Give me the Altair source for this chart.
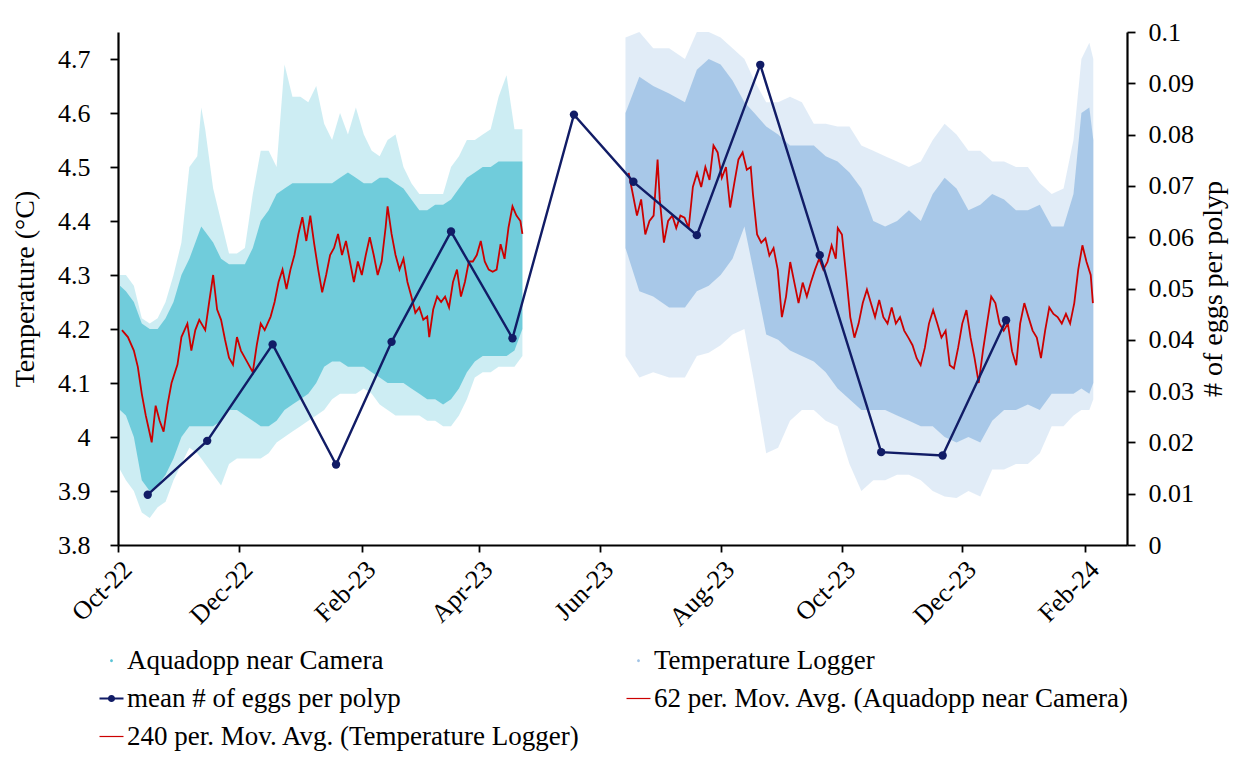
import altair as alt
import pandas as pd

START = pd.Timestamp("2022-10-01")

# ---------------- Aquadopp near Camera (scatter envelope, °C) ----------------
aq_day = [1, 4, 8, 12, 16, 20, 24, 28, 32, 36, 40, 42, 44, 48, 52, 56, 60, 64, 68, 72,
          76, 80, 84, 88, 92, 96, 100, 104, 108, 112, 116, 120, 124, 128, 132, 136, 140,
          144, 148, 152, 156, 160, 164, 168, 172, 176, 180, 184, 188, 192, 196, 200, 204]
aq_core_lo = [4.05, 4.04, 4.00, 3.92, 3.90, 3.91, 3.93, 3.96, 4.00, 4.02, 4.02, 4.02, 4.02,
              4.02, 4.03, 4.05, 4.05, 4.04, 4.03, 4.02, 4.02, 4.03, 4.05, 4.06, 4.07, 4.08,
              4.10, 4.13, 4.14, 4.14, 4.13, 4.13, 4.13, 4.12, 4.11, 4.10, 4.10, 4.10, 4.09,
              4.08, 4.07, 4.07, 4.06, 4.07, 4.09, 4.12, 4.14, 4.15, 4.15, 4.15, 4.15, 4.16, 4.20]
aq_core_hi = [4.28, 4.27, 4.25, 4.21, 4.20, 4.20, 4.22, 4.25, 4.30, 4.33, 4.37, 4.39, 4.38,
              4.36, 4.33, 4.32, 4.32, 4.32, 4.35, 4.40, 4.42, 4.45, 4.46, 4.47, 4.47, 4.47,
              4.47, 4.47, 4.47, 4.48, 4.49, 4.48, 4.47, 4.47, 4.48, 4.48, 4.47, 4.46, 4.44,
              4.42, 4.42, 4.43, 4.43, 4.44, 4.46, 4.48, 4.49, 4.50, 4.50, 4.51, 4.51, 4.51, 4.51]
aq_out_lo = [3.94, 3.92, 3.90, 3.86, 3.85, 3.87, 3.88, 3.92, 3.95, 3.98, 3.97, 3.96, 3.95,
             3.93, 3.91, 3.95, 3.96, 3.96, 3.96, 3.96, 3.97, 3.99, 4.00, 4.01, 4.02, 4.03,
             4.04, 4.05, 4.07, 4.08, 4.08, 4.08, 4.09, 4.08, 4.06, 4.05, 4.04, 4.04, 4.04,
             4.04, 4.03, 4.03, 4.02, 4.02, 4.04, 4.07, 4.11, 4.12, 4.12, 4.13, 4.13, 4.13, 4.15]
aq_out_hi = [4.30, 4.30, 4.28, 4.22, 4.21, 4.22, 4.25, 4.30, 4.36, 4.50, 4.52, 4.61, 4.57,
             4.46, 4.40, 4.34, 4.34, 4.35, 4.45, 4.53, 4.53, 4.50, 4.69, 4.63, 4.63, 4.62,
             4.65, 4.58, 4.55, 4.60, 4.56, 4.61, 4.56, 4.53, 4.52, 4.55, 4.56, 4.50, 4.47,
             4.45, 4.45, 4.45, 4.45, 4.50, 4.52, 4.55, 4.55, 4.56, 4.57, 4.63, 4.67, 4.57, 4.57]

# ---------------- Temperature Logger (scatter envelope, °C) ----------------
tl_day = [256, 263, 270, 278, 286, 292, 298, 304, 310, 316, 321, 327, 333, 339, 345, 351,
          357, 363, 369, 375, 381, 387, 393, 399, 405, 411, 417, 423, 429, 435, 441, 447,
          453, 459, 465, 471, 477, 482, 486, 490, 492]
tl_core_hi = [4.60, 4.667, 4.65, 4.636, 4.62, 4.68, 4.70, 4.69, 4.66, 4.62, 4.60, 4.575, 4.56,
              4.54, 4.54, 4.54, 4.52, 4.51, 4.49, 4.46, 4.40, 4.39, 4.40, 4.42, 4.40, 4.45,
              4.48, 4.46, 4.42, 4.43, 4.45, 4.44, 4.42, 4.42, 4.43, 4.39, 4.39, 4.45, 4.60,
              4.61, 4.55]
tl_core_lo = [4.35, 4.27, 4.26, 4.24, 4.24, 4.27, 4.28, 4.30, 4.33, 4.39, 4.30, 4.19, 4.18,
              4.16, 4.15, 4.14, 4.12, 4.09, 4.07, 4.05, 4.05, 4.05, 4.04, 4.03, 4.02, 4.02,
              4.00, 3.99, 4.00, 3.99, 4.03, 4.05, 4.05, 4.06, 4.05, 4.08, 4.08, 4.08, 4.09,
              4.08, 4.10]
tl_out_hi = [4.74, 4.75, 4.72, 4.72, 4.70, 4.75, 4.75, 4.74, 4.72, 4.70, 4.66, 4.62, 4.62,
             4.63, 4.62, 4.58, 4.58, 4.575, 4.575, 4.54, 4.53, 4.52, 4.51, 4.50, 4.51, 4.55,
             4.58, 4.56, 4.53, 4.53, 4.51, 4.51, 4.50, 4.50, 4.47, 4.45, 4.46, 4.55, 4.70,
             4.73, 4.70]
tl_out_lo = [4.15, 4.11, 4.12, 4.11, 4.11, 4.15, 4.156, 4.17, 4.19, 4.20, 4.10, 3.97, 3.98,
             4.03, 4.05, 4.05, 4.03, 4.02, 3.95, 3.90, 3.92, 3.92, 3.93, 3.93, 3.92, 3.90,
             3.89, 3.887, 3.90, 3.89, 3.94, 3.94, 3.95, 3.95, 3.97, 4.02, 4.02, 4.04, 4.05,
             4.05, 4.07]

# ---------------- 62 per. Mov. Avg. (Aquadopp near Camera) ----------------
ma_aq_day = [2, 5, 8, 10, 12, 14, 16, 17, 19, 21, 23, 25, 27, 30, 32, 35, 37, 39, 41, 44,
             46, 48, 50, 52, 54, 56, 58, 60, 62, 65, 68, 70, 72, 74, 77, 79, 81, 83, 85, 87,
             89, 91, 93, 95, 97, 99, 101, 103, 105, 107, 109, 111, 113, 115, 117, 119, 121,
             123, 125, 127, 129, 131, 133, 135, 136, 138, 140, 142, 144, 146, 148, 150, 152,
             154, 156, 157, 159, 161, 163, 165, 167, 169, 171, 173, 175, 177, 179, 181, 183,
             185, 187, 189, 191, 193, 195, 197, 199, 201, 203, 204]
ma_aq_val = [4.198, 4.185, 4.16, 4.13, 4.08, 4.04, 4.007, 3.99, 4.058, 4.03, 4.01, 4.06, 4.10,
             4.134, 4.185, 4.21, 4.16, 4.198, 4.217, 4.198, 4.25, 4.30, 4.236, 4.217, 4.18,
             4.147, 4.134, 4.185, 4.16, 4.14, 4.12, 4.17, 4.21, 4.198, 4.223, 4.25, 4.287,
             4.31, 4.274, 4.31, 4.337, 4.376, 4.407, 4.363, 4.41, 4.357, 4.31, 4.268, 4.30,
             4.337, 4.35, 4.376, 4.337, 4.363, 4.325, 4.287, 4.325, 4.30, 4.337, 4.37, 4.337,
             4.30, 4.325, 4.388, 4.427, 4.376, 4.337, 4.31, 4.33, 4.287, 4.26, 4.23, 4.24,
             4.217, 4.223, 4.185, 4.236, 4.26, 4.25, 4.26, 4.24, 4.287, 4.31, 4.26, 4.287,
             4.325, 4.325, 4.337, 4.363, 4.325, 4.31, 4.306, 4.31, 4.357, 4.33, 4.388, 4.427,
             4.41, 4.40, 4.376]

# ---------------- 240 per. Mov. Avg. (Temperature Logger) ----------------
ma_tl_day = [257.6, 259.7, 261.8, 263.9, 266.0, 268.1, 270.2, 272.2, 273.3, 275.4, 277.5,
             279.6, 281.6, 283.7, 285.8, 287.9, 290.0, 292.1, 294.2, 296.3, 298.4, 300.4,
             302.5, 304.6, 306.7, 308.8, 310.9, 313.0, 315.1, 317.2, 319.2, 320.3, 322.4,
             324.5, 326.6, 328.6, 330.7, 332.8, 334.9, 337.0, 339.1, 341.2, 343.3, 345.4,
             347.5, 349.5, 351.6, 353.7, 355.8, 357.9, 360.0, 362.1, 363.1, 365.2, 367.3,
             369.4, 371.5, 373.6, 375.7, 377.8, 379.8, 381.9, 384.0, 386.1, 388.2, 390.3,
             392.4, 394.5, 396.6, 398.7, 400.8, 402.9, 404.9, 407.0, 409.1, 411.2, 413.3,
             415.4, 417.5, 419.6, 421.7, 423.8, 425.9, 428.0, 430.1, 432.1, 434.2, 436.3,
             438.4, 440.5, 442.6, 444.7, 446.8, 448.9, 451.0, 453.1, 455.1, 457.2, 459.3,
             461.4, 463.5, 465.6, 467.7, 469.8, 471.9, 474.0, 476.1, 478.2, 480.3, 482.4,
             484.4, 486.5, 488.6, 490.7, 491.8]
ma_tl_val = [4.489, 4.45, 4.41, 4.44, 4.375, 4.40, 4.41, 4.514, 4.44, 4.36, 4.40, 4.41, 4.387,
             4.41, 4.406, 4.387, 4.463, 4.489, 4.463, 4.50, 4.476, 4.54, 4.527, 4.48, 4.50,
             4.425, 4.47, 4.514, 4.527, 4.495, 4.50, 4.45, 4.375, 4.36, 4.368, 4.336, 4.35,
             4.31, 4.222, 4.26, 4.324, 4.286, 4.248, 4.286, 4.26, 4.286, 4.31, 4.33, 4.31,
             4.324, 4.355, 4.33, 4.387, 4.375, 4.30, 4.222, 4.184, 4.21, 4.248, 4.273, 4.248,
             4.222, 4.254, 4.222, 4.21, 4.24, 4.21, 4.222, 4.197, 4.184, 4.17, 4.146, 4.133,
             4.165, 4.21, 4.235, 4.21, 4.184, 4.197, 4.133, 4.127, 4.165, 4.21, 4.235, 4.184,
             4.146, 4.10, 4.159, 4.21, 4.26, 4.248, 4.21, 4.197, 4.21, 4.159, 4.133, 4.21,
             4.248, 4.222, 4.197, 4.184, 4.146, 4.197, 4.24, 4.228, 4.222, 4.21, 4.228, 4.21,
             4.248, 4.31, 4.355, 4.324, 4.30, 4.248]

# ---------------- mean # of eggs per polyp ----------------
egg_day = [15, 45, 78, 110, 138, 168, 199, 230, 260, 292, 324, 354, 385, 416, 448]
egg_val = [0.0098, 0.0203, 0.0391, 0.0157, 0.0396, 0.0611, 0.0403, 0.0839, 0.0708, 0.0604,
           0.0936, 0.0565, 0.0181, 0.01745, 0.0438]

SERIES = ["Aquadopp near Camera", "Temperature Logger", "mean # of eggs per polyp",
          "62 per. Mov. Avg. (Aquadopp near Camera)", "240 per. Mov. Avg. (Temperature Logger)"]
temp_ticks = [3.8, 3.9, 4.0, 4.1, 4.2, 4.3, 4.4, 4.5, 4.6, 4.7]
egg_ticks = [0, 0.01, 0.02, 0.03, 0.04, 0.05, 0.06, 0.07, 0.08, 0.09, 0.1]
month_ticks = [(2022, 10), (2022, 12), (2023, 2), (2023, 4), (2023, 6),
               (2023, 8), (2023, 10), (2023, 12), (2024, 2)]

C_AQ = "#5BC4D6"
C_TL = "#A2C4E6"
C_RED = "#CC0000"
C_NAVY = "#111C66"
FONT = "Liberation Serif"
TICK_FS = 26
TITLE_FS = 28
LEG_FS = 27


def to_date(days):
    return [(START + pd.Timedelta(days=float(d))).strftime("%Y-%m-%dT%H:%M:%S") for d in days]


aq = pd.DataFrame({"date": to_date(aq_day), "clo": aq_core_lo, "chi": aq_core_hi,
                   "olo": aq_out_lo, "ohi": aq_out_hi})
tl = pd.DataFrame({"date": to_date(tl_day), "clo": tl_core_lo, "chi": tl_core_hi,
                   "olo": tl_out_lo, "ohi": tl_out_hi})
ma_aq = pd.DataFrame({"date": to_date(ma_aq_day), "t": ma_aq_val})
ma_tl = pd.DataFrame({"date": to_date(ma_tl_day), "t": ma_tl_val})
eggs = pd.DataFrame({"date": to_date(egg_day), "e": egg_val})
leg = pd.DataFrame({"series": SERIES})

xscale = alt.Scale(domain=[alt.DateTime(year=2022, month=10, date=1),
                           alt.DateTime(year=2024, month=2, date=22)])
xaxis = alt.Axis(title=None, format="%b-%y", labelAngle=-45, tickSize=7,
                 values=[alt.DateTime(year=y, month=m, date=1) for y, m in month_ticks],
                 labelFontSize=TICK_FS, labelPadding=4)
X = alt.X("date:T", scale=xscale, axis=xaxis)

yscale = alt.Scale(domain=[3.8, 4.75], nice=False, zero=False)
yaxis = alt.Axis(title="Temperature (°C)", values=temp_ticks, format=".1~f", tickSize=8,
                 labelFontSize=TICK_FS, titleFontSize=TITLE_FS, titleFontWeight="normal",
                 titlePadding=18, labelPadding=20)


def band(df, lo, hi, color, op):
    return alt.Chart(df).mark_area(color=color, opacity=op, interpolate="linear").encode(
        x=X, y=alt.Y(f"{lo}:Q", scale=yscale, axis=yaxis), y2=f"{hi}:Q")


tl_outer = band(tl, "olo", "ohi", C_TL, 0.32)
tl_core = band(tl, "clo", "chi", C_TL, 0.9)
aq_outer = band(aq, "olo", "ohi", C_AQ, 0.3)
aq_core = band(aq, "clo", "chi", C_AQ, 0.82)

line_aq = alt.Chart(ma_aq).mark_line(color=C_RED, strokeWidth=1.8).encode(
    x=X, y=alt.Y("t:Q", scale=yscale, axis=yaxis))
line_tl = alt.Chart(ma_tl).mark_line(color=C_RED, strokeWidth=1.8).encode(
    x=X, y=alt.Y("t:Q", scale=yscale, axis=yaxis))

p_dot = "M0.12,0A0.12,0.12,0,1,1,-0.12,0A0.12,0.12,0,1,1,0.12,0Z"
p_line = "M-1,-0.05L1,-0.05L1,0.05L-1,0.05Z"
p_egg = "M-1,-0.08L1,-0.08L1,0.08L-1,0.08Z M0.3,0A0.3,0.3,0,1,1,-0.3,0A0.3,0.3,0,1,1,0.3,0Z"

legend_layer = alt.Chart(leg).mark_point(filled=True, opacity=0).encode(
    color=alt.Color("series:N",
                    scale=alt.Scale(domain=SERIES, range=[C_AQ, C_TL, C_NAVY, C_RED, C_RED]),
                    legend=alt.Legend(title=None, orient="none", legendX=-20, legendY=615,
                                      direction="horizontal", columns=2, columnPadding=44,
                                      rowPadding=10, labelFont=FONT, labelFontSize=LEG_FS,
                                      labelColor="black", labelLimit=0, symbolSize=576,
                                      symbolStrokeWidth=0, symbolOpacity=1, labelOffset=2)),
    shape=alt.Shape("series:N",
                    scale=alt.Scale(domain=SERIES, range=[p_dot, p_dot, p_egg, p_line, p_line]),
                    legend=None),
)

left = alt.layer(tl_outer, tl_core, aq_outer, aq_core, line_aq, line_tl, legend_layer)

eaxis = alt.Axis(title="# of eggs per polyp", orient="right", values=egg_ticks,
                 format=".2~f", tickSize=8, labelFontSize=TICK_FS, titleFontSize=TITLE_FS,
                 titleFontWeight="normal", titleAngle=270, titleBaseline="top",
                 titlePadding=6, labelPadding=13)
escale = alt.Scale(domain=[0, 0.1], nice=False)
egg_line = alt.Chart(eggs).mark_line(color=C_NAVY, strokeWidth=2.4).encode(
    x=X, y=alt.Y("e:Q", scale=escale, axis=eaxis))
egg_pts = alt.Chart(eggs).mark_circle(color=C_NAVY, size=70, opacity=1).encode(
    x=X, y=alt.Y("e:Q", scale=escale, axis=eaxis))
right = alt.layer(egg_line, egg_pts)

chart = alt.layer(left, right).resolve_scale(y="independent").properties(
    width=1009, height=513,
    padding={"left": 110, "top": 24, "right": 106, "bottom": 210},
    autosize=alt.AutoSizeParams(type="none"),
).configure_view(stroke=None).configure_axis(
    domainColor="black", domainWidth=2.2, tickColor="black", tickWidth=1.8,
    labelColor="black", titleColor="black", labelFont=FONT, titleFont=FONT, grid=False,
).configure_legend(symbolOpacity=1)

chart.save("out.html", embed_options={"renderer": "svg", "actions": False})
